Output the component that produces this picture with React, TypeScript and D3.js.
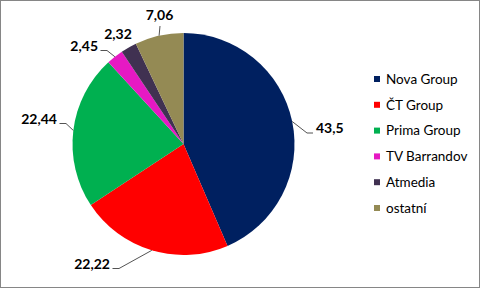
import React from "react";
import * as d3 from "d3";

const categories = ["Nova Group", "ČT Group", "Prima Group", "TV Barrandov", "Atmedia", "ostatní"];
const values = [43.5, 22.22, 22.44, 2.45, 2.32, 7.06];
const valueLabels = ["43,5", "22,22", "22,44", "2,45", "2,32", "7,06"];
const colors = ["#002060", "#FF0000", "#00B050", "#E619C3", "#403151", "#948A54"];

// label layout relative to pie centre (text baseline), anchor, leader type
const labelLayout = [
  { dx: 132.5, dy: -11, anchor: "start", leader: "right" },
  { dx: -73.5, dy: 125, anchor: "end", leader: "left" },
  { dx: -126.5, dy: -20, anchor: "end", leader: "left" },
  { dx: -85.5, dy: -93, anchor: "end", leader: "left" },
  { dx: -65.5, dy: -105, anchor: "middle", leader: "none" },
  { dx: -24, dy: -124, anchor: "middle", leader: "up" },
];

const W = 481;
const H = 289;
const cx = 183.5;
const cy = 144;
const R = 111;

export default function App() {
  const data = categories.map((c, i) => ({ c, v: values[i], i }));
  const pie = d3.pie<any>().sort(null).value((d) => d.v).startAngle(0).endAngle(2 * Math.PI);
  const arcs = pie(data);
  const arc = d3.arc<any>().innerRadius(0).outerRadius(R);
  const line = d3.line();
  const font = "Lato, 'Open Sans', sans-serif";

  return (
    <div style={{ position: "fixed", left: 0, top: 0 }}>
      <svg width={W} height={H} style={{ display: "block" }}>
        <rect x={0} y={0} width={W} height={H} fill="#fff" />
        <rect x={0.5} y={0.5} width={479} height={287} fill="none" stroke="#868686" strokeWidth={1} />
        <g transform={`translate(${cx},${cy})`}>
          {arcs.map((a, i) => (
            <path key={i} d={arc(a) as string} fill={colors[i]} />
          ))}
          {arcs.map((a, i) => {
            const L = labelLayout[i];
            const mid = (a.startAngle + a.endAngle) / 2;
            const px = R * Math.sin(mid);
            const py = -R * Math.cos(mid);
            let pts: [number, number][] | null = null;
            if (L.leader === "right") {
              pts = [[px, py], [L.dx - 9, L.dy], [L.dx - 3, L.dy]];
            } else if (L.leader === "left") {
              pts = [[px, py], [L.dx + 9, L.dy - 0.5], [L.dx + 2.5, L.dy - 0.5]];
            } else if (L.leader === "up") {
              pts = [[px, py], [L.dx + 0.5, L.dy + 6]];
            }
            return (
              <g key={i}>
                {pts && <path d={line(pts) as string} fill="none" stroke="#404040" strokeWidth={0.9} />}
                <text
                  x={L.dx}
                  y={L.dy}
                  textAnchor={L.anchor as any}
                  fontFamily={font}
                  fontWeight={700}
                  fontSize={14}
                  fill="#000"
                >
                  {valueLabels[i]}
                </text>
              </g>
            );
          })}
        </g>
        <g>
          {categories.map((c, i) => {
            const y = 79 + i * 25.8;
            return (
              <g key={c}>
                <rect x={374} y={y - 3} width={6} height={6} fill={colors[i]} />
                <text x={386} y={y} dy="0.35em" fontFamily={font} fontSize={13.5} fill="#000">
                  {c}
                </text>
              </g>
            );
          })}
        </g>
      </svg>
    </div>
  );
}
